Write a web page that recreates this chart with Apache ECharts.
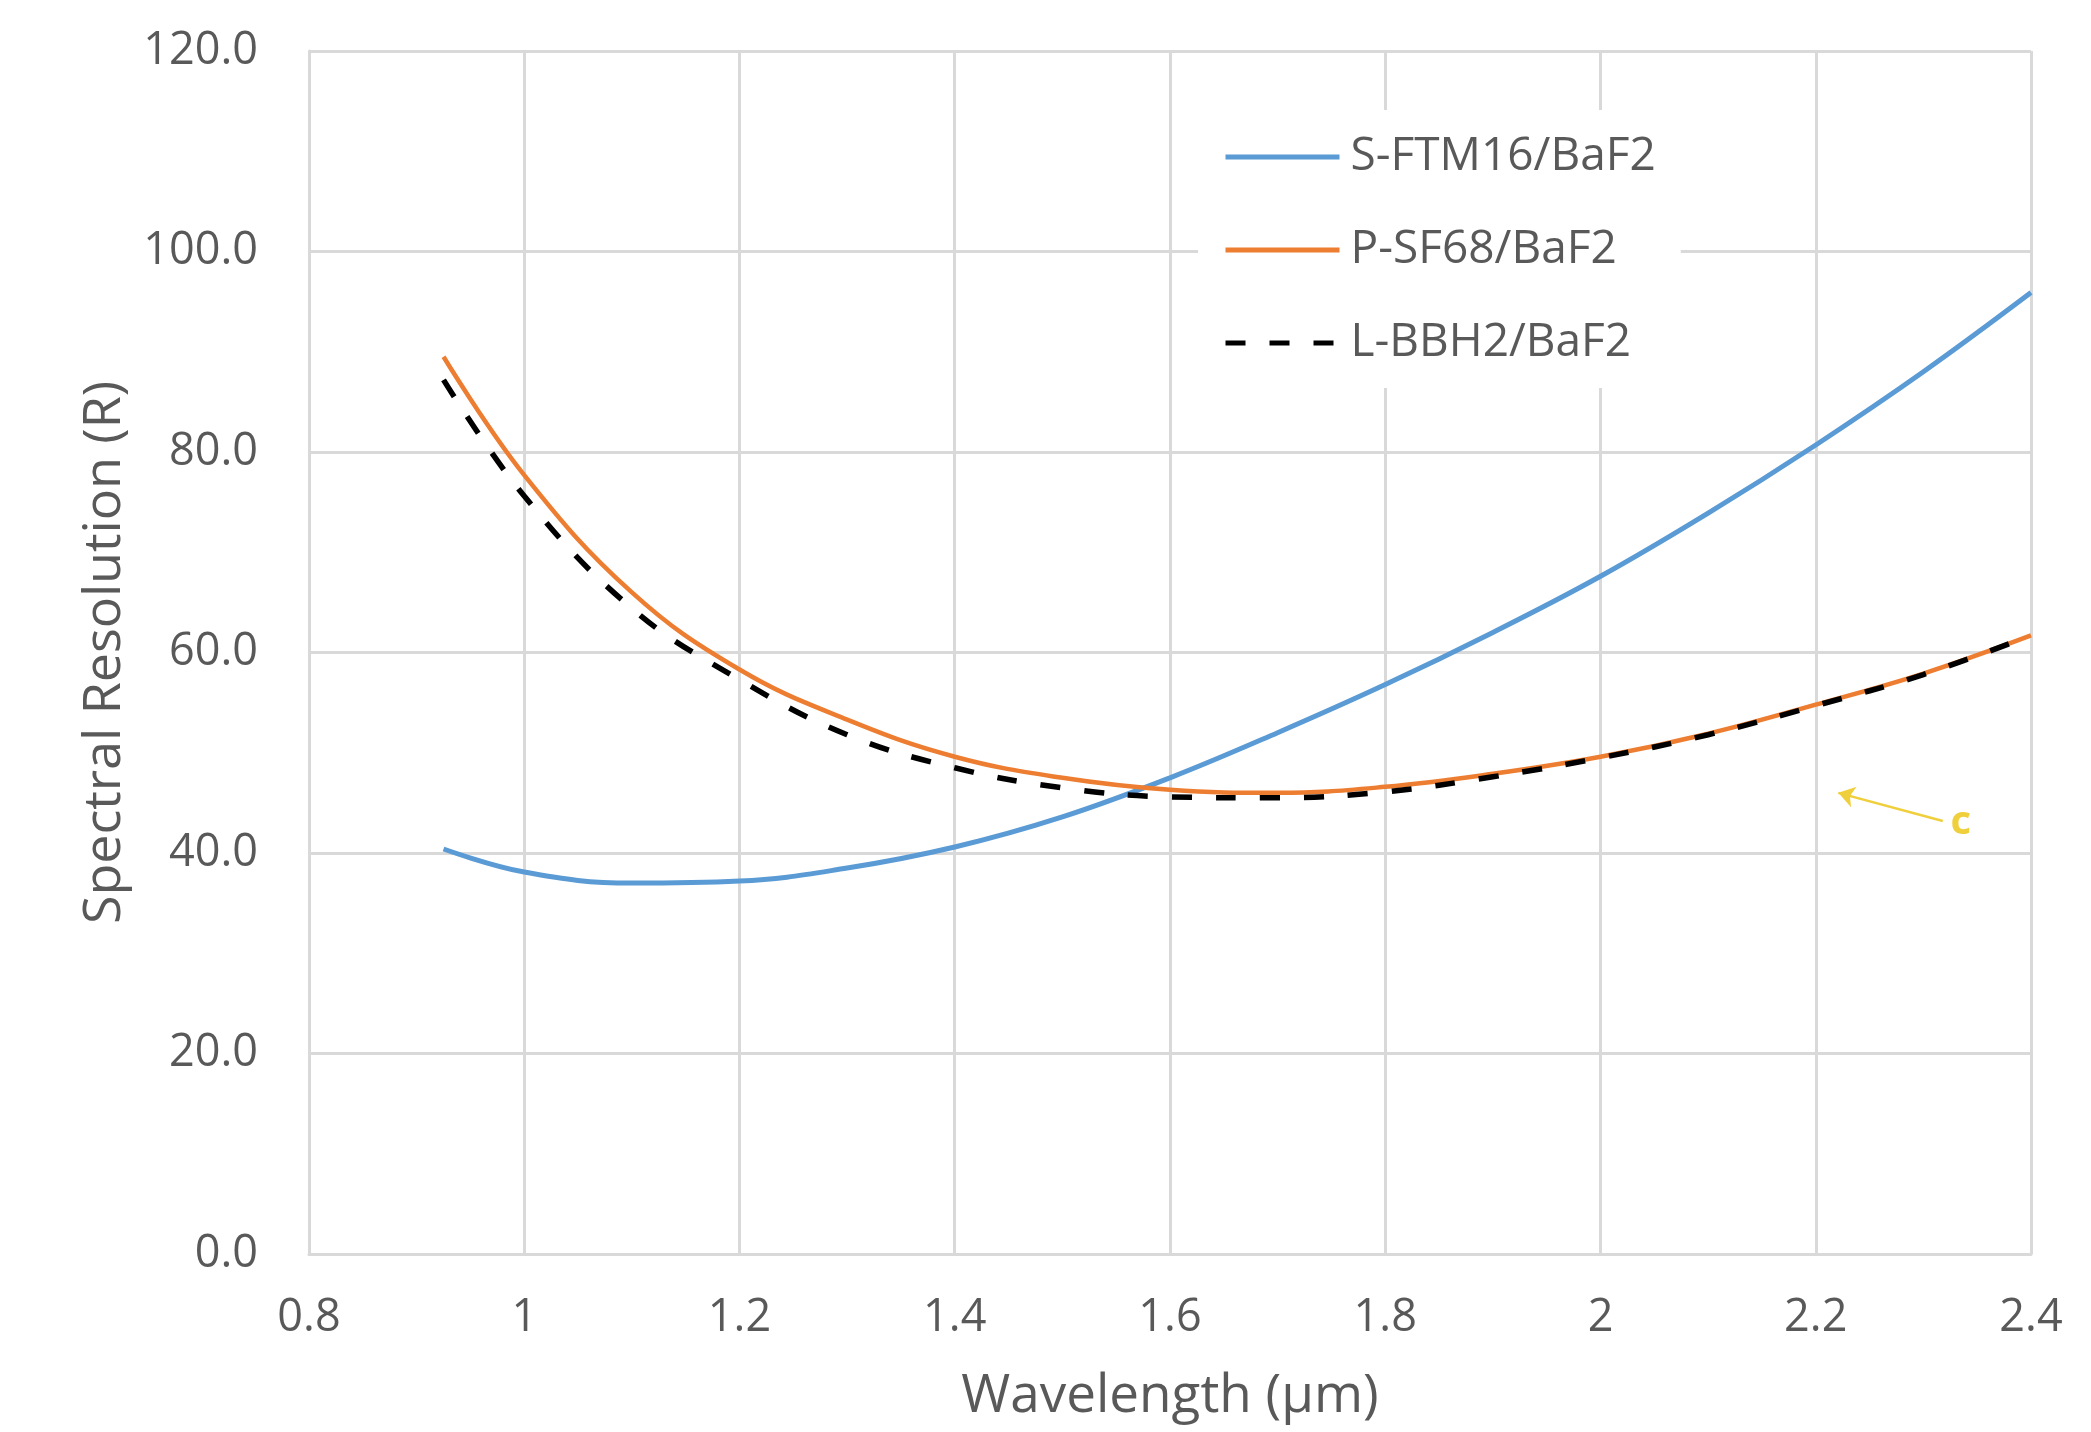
<!DOCTYPE html>
<html>
<head>
<meta charset="utf-8">
<script src="https://cdn.jsdelivr.net/npm/echarts@6/dist/echarts.min.js"></script>
<style>
  html, body { margin: 0; padding: 0; background: #fff; }
  #main { width: 2091px; height: 1432px; }
</style>
</head>
<body>
<div id="main"></div>
<script>
const wavelength = [0.925, 1.0, 1.1, 1.2, 1.3, 1.4, 1.5, 1.6, 1.7, 1.8, 1.9, 2.0, 2.1, 2.2, 2.3, 2.4];
const sftm16 = [40.4, 38.1, 37.0, 37.2, 38.5, 40.6, 43.6, 47.5, 52.0, 56.8, 62.0, 67.6, 73.9, 80.7, 88.0, 95.9];
const psf68 = [89.5, 77.7, 66.0, 58.3, 53.3, 49.6, 47.5, 46.3, 46.0, 46.6, 47.9, 49.6, 51.9, 54.8, 57.9, 61.7];
const lbbh2 = [87.2, 75.6, 64.4, 57.3, 51.8, 48.5, 46.5, 45.6, 45.5, 46.1, 47.6, 49.5, 51.8, 54.7, 57.8, 61.7];
const seriesNames = ['S-FTM16/BaF2', 'P-SF68/BaF2', 'L-BBH2/BaF2'];
const xTickLabels = ['0.8', '1', '1.2', '1.4', '1.6', '1.8', '2', '2.2', '2.4'];
const yTickLabels = ['0.0', '20.0', '40.0', '60.0', '80.0', '100.0', '120.0'];
// annotation arrow "c" (tail -> head), in data units
const arrowFrom = [2.318, 43.2];
const arrowTo = [2.221, 46.0];

const pairs = ys => wavelength.map((x, i) => [x, ys[i]]);
const font = '"Open Sans", sans-serif';
const textColor = '#595959';
const gridColor = '#d9d9d9';

const chart = echarts.init(document.getElementById('main'));

const option = {
  backgroundColor: '#fff',
  animation: false,
  grid: { left: 309, right: 60, top: 51, bottom: 178 },
  legend: {
    orient: 'vertical',
    left: 1198,
    top: 110,
    padding: [22, 25, 20, 25],
    backgroundColor: '#fff',
    itemWidth: 114,
    itemHeight: 20,
    itemGap: 43,
    itemStyle: { opacity: 0 },
    lineStyle: { width: 5 },
    textStyle: { fontFamily: font, fontSize: 46, color: textColor, lineHeight: 50, padding: [0, 0, 0, 6] },
    data: seriesNames
  },
  xAxis: {
    type: 'value',
    min: 0.8,
    max: 2.4,
    interval: 0.2,
    name: 'Wavelength (µm)',
    nameLocation: 'middle',
    nameGap: 116,
    nameTextStyle: { fontFamily: font, fontSize: 53, color: textColor },
    axisLine: { lineStyle: { color: gridColor, width: 3 } },
    axisTick: { show: false },
    splitLine: { show: true, lineStyle: { color: gridColor, width: 3 } },
    axisLabel: {
      fontFamily: font, fontSize: 45, color: textColor, margin: 42,
      formatter: v => xTickLabels[Math.round((v - 0.8) / 0.2)]
    }
  },
  yAxis: {
    type: 'value',
    min: 0,
    max: 120,
    interval: 20,
    name: 'Spectral Resolution (R)',
    nameLocation: 'middle',
    nameGap: 178,
    nameTextStyle: { fontFamily: font, fontSize: 52, color: textColor },
    axisLine: { show: true, lineStyle: { color: gridColor, width: 3 } },
    axisTick: { show: false },
    splitLine: { lineStyle: { color: gridColor, width: 3 } },
    axisLabel: {
      fontFamily: font, fontSize: 45, color: textColor, margin: 51,
      formatter: v => yTickLabels[Math.round(v / 20)]
    }
  },
  series: [
    {
      name: seriesNames[0],
      type: 'line',
      data: pairs(sftm16),
      smooth: 0.4,
      symbol: 'none',
      lineStyle: { color: '#5b9bd5', width: 5 },
      itemStyle: { color: '#5b9bd5' }
    },
    {
      name: seriesNames[1],
      type: 'line',
      data: pairs(psf68),
      smooth: 0.4,
      symbol: 'none',
      lineStyle: { color: '#ed7d31', width: 4.5 },
      itemStyle: { color: '#ed7d31' }
    },
    {
      name: seriesNames[2],
      type: 'line',
      data: pairs(lbbh2),
      smooth: 0.4,
      symbol: 'none',
      lineStyle: { color: '#000', width: 5.5, type: [20, 24], cap: 'butt' },
      itemStyle: { color: '#000' },
      markLine: {
        silent: true,
        symbol: ['none', 'arrow'],
        symbolSize: 16,
        lineStyle: { color: '#f0cf3c', width: 2.5, type: 'solid' },
        label: {
          show: true,
          position: 'start',
          formatter: 'c',
          color: '#f0cf3c',
          fontFamily: font,
          fontWeight: 'bold',
          fontSize: 40,
          distance: 8
        },
        data: [[{ coord: arrowFrom }, { coord: arrowTo }]]
      }
    }
  ]
};

chart.setOption(option);
</script>
</body>
</html>
